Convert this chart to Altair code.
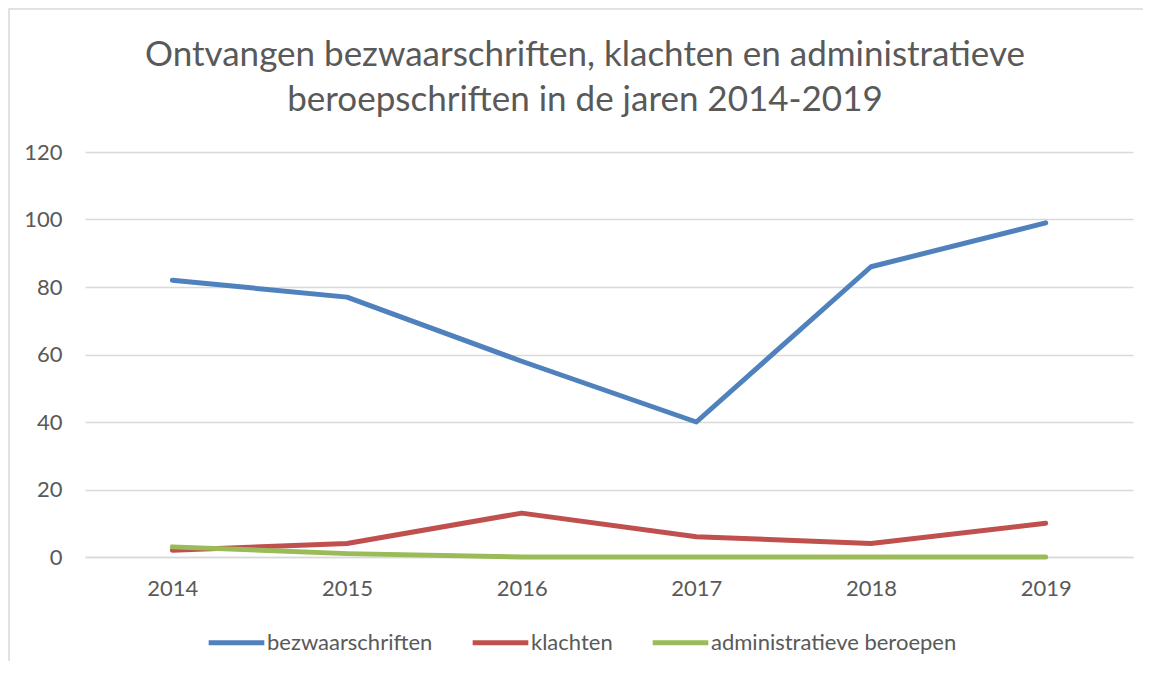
import altair as alt
import pandas as pd

years = ["2014", "2015", "2016", "2017", "2018", "2019"]
bezwaarschriften = [82, 77, 58, 40, 86, 99]
klachten = [2, 4, 13, 6, 4, 10]
administratieve_beroepen = [3, 1, 0, 0, 0, 0]
series_names = ["bezwaarschriften", "klachten", "administratieve beroepen"]
series_colors = ["#4F81BD", "#C0504D", "#9BBB59"]
y_ticks = [0, 20, 40, 60, 80, 100, 120]

rows = []
for i, (name, vals) in enumerate(zip(series_names, [bezwaarschriften, klachten, administratieve_beroepen])):
    for yr, v in zip(years, vals):
        rows.append({"jaar": yr, "aantal": v, "reeks": name, "volgorde": i})
df = pd.DataFrame(rows)

TEXT = "#595959"
GRID = "#D9D9D9"
FONT = "Lato"

lines = alt.Chart(df).mark_line(strokeWidth=5, strokeCap="round", strokeJoin="round").encode(
    x=alt.X("jaar:O", scale=alt.Scale(type="point", padding=0.5),
            axis=alt.Axis(title=None, labelAngle=0, ticks=False, domain=True, domainColor=GRID,
                          domainWidth=1.5, labelPadding=21, labelFontSize=22, labelColor=TEXT,
                          grid=False)),
    y=alt.Y("aantal:Q", scale=alt.Scale(domain=[0, 120], nice=False),
            axis=alt.Axis(title=None, values=y_ticks, ticks=False, domain=False, grid=True,
                          gridColor=GRID, gridWidth=1.5, labelPadding=23, labelFontSize=22,
                          labelColor=TEXT)),
    color=alt.Color("reeks:N", scale=alt.Scale(domain=series_names, range=series_colors),
                    legend=alt.Legend(title=None, orient="none", direction="horizontal",
                                      legendX=121, legendY=460, symbolType="stroke",
                                      symbolSize=3100, symbolStrokeWidth=5, labelFontSize=22,
                                      labelColor=TEXT, labelOffset=0, columnPadding=29,
                                      labelLimit=400)),
    order=alt.Order("volgorde:Q"),
)

border = alt.Chart(pd.DataFrame({"k": [0]})).mark_rect(
    fill=None, stroke=GRID, strokeWidth=1.5
).encode(
    x=alt.value(-76), x2=alt.value(1080), y=alt.value(-143), y2=alt.value(530)
)

chart = alt.layer(border, lines).properties(
    width=1048,
    height=405,
    padding={"left": 77, "top": 144, "right": 10, "bottom": 104},
    autosize=alt.AutoSizeParams(type="none"),
    title=alt.TitleParams(
        ["Ontvangen bezwaarschriften, klachten en administratieve",
         "beroepschriften in de jaren 2014-2019"],
        fontSize=35, font=FONT, color=TEXT, fontWeight="normal", anchor="middle",
        lineHeight=45, offset=-110, dx=-24,
    ),
).configure(font=FONT).configure_view(stroke=None)

chart.save("out.html", embed_options={"renderer": "svg", "actions": False})
